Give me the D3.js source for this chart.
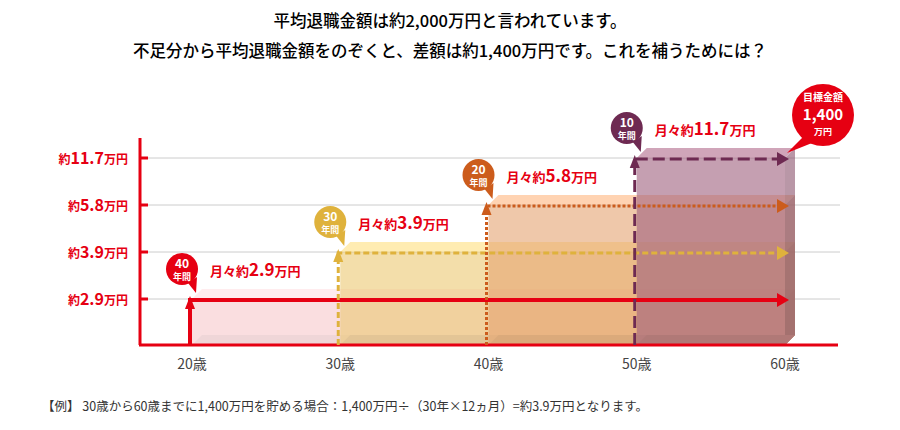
<!DOCTYPE html>
<html><head><meta charset="utf-8">
<script src="https://cdn.jsdelivr.net/npm/d3@7"></script>
<style>body{margin:0;background:#fff}text{font-family:"Noto Sans CJK JP",sans-serif}</style>
</head><body>
<svg id="chart" width="900" height="430"></svg>
<script>
var levels = ["2.9","3.9","5.8","11.7"];
var startAges = [20,30,40,50];
var years = [40,30,20,10];
var ageTicks = [20,30,40,50,60];
var colors = ["#e60012","#dfb23c","#cc5c1c","#6e2a52"];
var boxFill = ["#f7c9cd","#ecc973","#e6a472","#a0607e"];
var dashes = [null,"6,3","3,2","12,5"];

var svg = d3.select("#chart");
var x = d3.scaleLinear().domain([20,60]).range([192,785]);
var y = d3.scalePoint().domain(levels).range([299,158]);
var base = 345, dep = 10;

svg.append("text").attr("x",450).attr("y",27).attr("text-anchor","middle")
  .attr("font-size",16.5).attr("font-weight",500).text("平均退職金額は約2,000万円と言われています。");
svg.append("text").attr("x",450).attr("y",57).attr("text-anchor","middle")
  .attr("font-size",16.5).attr("font-weight",500).text("不足分から平均退職金額をのぞくと、差額は約1,400万円です。これを補うためには？");

// grid
levels.forEach(function(l){
  svg.append("line").attr("x1",145).attr("x2",840).attr("y1",y(l)).attr("y2",y(l)).attr("stroke","#ccc");
});

// boxes
levels.forEach(function(l,i){
  var x0 = x(startAges[i]), x1 = x(60), t = y(l);
  var g = svg.append("g").attr("opacity",0.6);
  g.append("polygon").attr("points",[[x0,t],[x0+dep,t-dep],[x1+dep,t-dep],[x1,t]].join(" ")).attr("fill",d3.color(boxFill[i]).brighter(0.3));
  g.append("polygon").attr("points",[[x1,t],[x1+dep,t-dep],[x1+dep,base-dep],[x1,base]].join(" ")).attr("fill",d3.color(boxFill[i]).darker(0.4));
  g.append("rect").attr("x",x0).attr("y",t).attr("width",x1-x0).attr("height",base-t).attr("fill",boxFill[i]);
  g.append("polygon").attr("points",[[x0,base],[x0+dep,base-dep],[x1+dep,base-dep],[x1,base]].join(" ")).attr("fill",d3.color(boxFill[i]).darker(0.2));
});

// axes
svg.append("line").attr("x1",140).attr("x2",140).attr("y1",138).attr("y2",base).attr("stroke","#e60012").attr("stroke-width",3);
svg.append("line").attr("x1",139).attr("x2",838).attr("y1",base).attr("y2",base).attr("stroke","#e60012").attr("stroke-width",3);
levels.forEach(function(l){
  svg.append("line").attr("x1",140).attr("x2",148).attr("y1",y(l)).attr("y2",y(l)).attr("stroke","#e60012").attr("stroke-width",3);
  var tx = svg.append("text").attr("x",128).attr("y",y(l)+6).attr("text-anchor","end").attr("fill","#e60012").attr("font-weight",700);
  tx.append("tspan").attr("font-size",12).text("約");
  tx.append("tspan").attr("font-size",16).text(l);
  tx.append("tspan").attr("font-size",12).text("万円");
});
ageTicks.forEach(function(a){
  svg.append("text").attr("x",x(a)).attr("y",369).attr("text-anchor","middle").attr("font-size",14).attr("fill","#444").text(a+"歳");
});

// arrows
levels.forEach(function(l,i){
  var x0 = x(startAges[i]) - 2, x1 = x(60) - 8, t = y(l);
  var w = i==0 ? 4 : 3;
  svg.append("path").attr("d","M"+x0+","+base+"V"+(t+1)+"H"+x1)
    .attr("fill","none").attr("stroke",colors[i]).attr("stroke-width",w).attr("stroke-dasharray",dashes[i]);
  svg.append("path").attr("d","M"+(x0-5)+","+(t+10)+"L"+x0+","+(t-3)+"L"+(x0+5)+","+(t+10)+"Z").attr("fill",colors[i]);
  svg.append("path").attr("d","M"+x1+","+(t-6)+"L"+(x1+12)+","+(t+1)+"L"+x1+","+(t+8)+"Z").attr("fill",colors[i]);
});

// badges and labels
levels.forEach(function(l,i){
  var cx = x(startAges[i]) - 10, cy = y(l) - 30;
  svg.append("path").attr("d","M"+(cx+6)+","+(cy+14)+"L"+(cx+14)+","+(cy+24)+"L"+(cx+15)+","+(cy+8)+"Z").attr("fill",colors[i]);
  svg.append("circle").attr("cx",cx).attr("cy",cy).attr("r",16).attr("fill",colors[i]);
  svg.append("text").attr("x",cx).attr("y",cy-1).attr("text-anchor","middle").attr("fill","#fff").attr("font-size",12).attr("font-weight",700).text(years[i]);
  svg.append("text").attr("x",cx).attr("y",cy+11).attr("text-anchor","middle").attr("fill","#fff").attr("font-size",9).attr("font-weight",700).text("年間");
  var tx = svg.append("text").attr("x",cx+28).attr("y",cy+7).attr("fill","#e60012").attr("font-weight",700);
  tx.append("tspan").attr("font-size",13).text("月々約");
  tx.append("tspan").attr("font-size",17).text(l);
  tx.append("tspan").attr("font-size",13).text("万円");
});

// goal badge
var gx = 823, gy = 115;
svg.append("path").attr("d","M"+(gx-18)+","+(gy+20)+"L"+(gx-36)+","+(gy+38)+"L"+(gx-6)+","+(gy+26)+"Z").attr("fill","#e60012");
svg.append("circle").attr("cx",gx).attr("cy",gy).attr("r",31).attr("fill","#e60012");
svg.append("text").attr("x",gx).attr("y",gy-14).attr("text-anchor","middle").attr("fill","#fff").attr("font-size",10).attr("font-weight",700).text("目標金額");
svg.append("text").attr("x",gx).attr("y",gy+5).attr("text-anchor","middle").attr("fill","#fff").attr("font-size",15).attr("font-weight",700).text("1,400");
svg.append("text").attr("x",gx).attr("y",gy+20).attr("text-anchor","middle").attr("fill","#fff").attr("font-size",9).attr("font-weight",700).text("万円");

svg.append("text").attr("x",42).attr("y",411).attr("font-size",12.5).attr("fill","#333")
  .text("【例】 30歳から60歳までに1,400万円を貯める場合：1,400万円÷（30年×12ヵ月）=約3.9万円となります。");
</script>
</body></html>
